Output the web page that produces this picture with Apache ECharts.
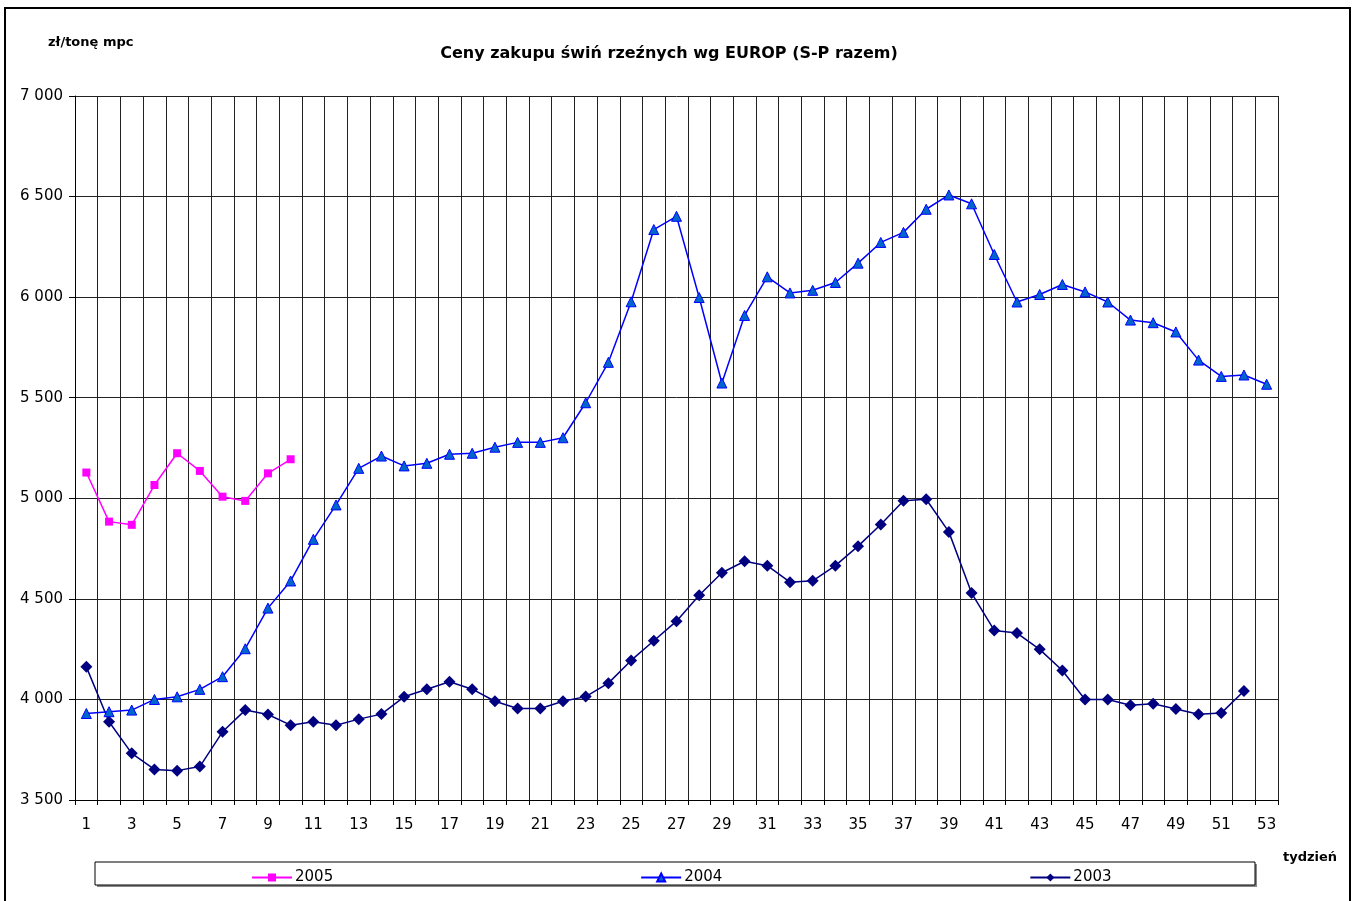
<!DOCTYPE html>
<html>
<head>
<meta charset="utf-8">
<script src="https://cdn.jsdelivr.net/npm/echarts@6/dist/echarts.min.js"></script>
<style>
  html, body { margin: 0; padding: 0; background: #fff; }
  #chart { width: 1356px; height: 901px; }
</style>
</head>
<body>
<div id="chart"></div>
<script>
  // tygodnie 1..53
  const weeks = [];
  for (let i = 1; i <= 53; i++) weeks.push(String(i));

  const yTicks = [3500, 4000, 4500, 5000, 5500, 6000, 6500, 7000];

  const prices2005 = [5128, 4884, 4868, 5066, 5224, 5136, 5008, 4987, 5124, 5194];

  const prices2004 = [3930, 3939, 3947, 4000, 4013, 4050, 4113, 4252, 4454, 4589,
    4796, 4967, 5149, 5210, 5161, 5174, 5219, 5224, 5254, 5278,
    5278, 5301, 5475, 5676, 5977, 6336, 6402, 5998, 5573, 5909,
    6101, 6021, 6034, 6073, 6169, 6272, 6322, 6437, 6508, 6464,
    6212, 5976, 6013, 6063, 6026, 5976, 5886, 5873, 5827, 5687,
    5606, 5613, 5567];

  const prices2003 = [4162, 3889, 3732, 3652, 3646, 3666, 3839, 3947, 3925, 3872,
    3889, 3872, 3902, 3927, 4013, 4051, 4088, 4051, 3991, 3955,
    3955, 3991, 4014, 4081, 4194, 4292, 4389, 4518, 4630, 4687,
    4665, 4583, 4590, 4665, 4762, 4870, 4988, 4995, 4833, 4529,
    4343, 4330, 4249, 4144, 4000, 4000, 3971, 3978, 3952, 3926,
    3932, 4042];

  const fmt = v => String(v).replace(/\B(?=(\d{3})+(?!\d))/g, ' ');
  const FONT = 'DejaVu Sans, Arial, sans-serif';

  const chart = echarts.init(document.getElementById('chart'));
  chart.setOption({
    animation: false,
    textStyle: { fontFamily: FONT },
    title: {
      text: 'Ceny zakupu świń rzeźnych wg EUROP (S-P razem)',
      left: 664, textAlign: 'center', top: 41,
      textStyle: { fontSize: 16, fontWeight: 'bold', color: '#000', fontFamily: FONT }
    },
    graphic: [
      { type: 'rect', shape: { x: 5, y: 8, width: 1345, height: 910 },
        style: { fill: 'none', stroke: '#000', lineWidth: 2 }, z: 100 },
      { type: 'text', left: 48, top: 36,
        style: { text: 'zł/tonę mpc', font: 'bold 13px DejaVu Sans', fill: '#000' } },
      { type: 'text', left: 1283, top: 851,
        style: { text: 'tydzień', font: 'bold 13px DejaVu Sans', fill: '#000' } },
      { type: 'rect', shape: { x: 97, y: 864, width: 1160, height: 23 },
        style: { fill: '#888', stroke: 'none' }, z: 0 },
      { type: 'rect', shape: { x: 95, y: 862, width: 1160, height: 23 },
        style: { fill: '#fff', stroke: '#000', lineWidth: 1 }, z: 1 }
    ],
    legend: {
      left: 246, top: 865, itemGap: 307, itemWidth: 40, itemHeight: 10,
      textStyle: { fontSize: 15, color: '#000', fontFamily: FONT, padding: [0, 0, 0, -2] },
      data: ['2005', '2004', '2003'], z: 5
    },
    grid: { left: 75, right: 78, top: 96, bottom: 101 },
    xAxis: {
      type: 'category', data: weeks, boundaryGap: true,
      axisLine: { lineStyle: { color: '#000', width: 1 } },
      axisTick: { show: true, interval: 0, length: 5, lineStyle: { color: '#000' } },
      axisLabel: { interval: 1, color: '#000', fontSize: 15, margin: 18 },
      splitLine: { show: true, interval: 0, lineStyle: { color: '#222', width: 1 } }
    },
    yAxis: {
      type: 'value', min: yTicks[0], max: yTicks[yTicks.length - 1], interval: 500,
      axisLine: { show: true, lineStyle: { color: '#000', width: 1 } },
      axisTick: { show: true, length: 6, lineStyle: { color: '#000' } },
      axisLabel: { color: '#000', fontSize: 15, margin: 12, formatter: fmt },
      splitLine: { show: true, lineStyle: { color: '#222', width: 1 } }
    },
    series: [
      { name: '2005', type: 'line', data: prices2005, symbol: 'rect', symbolSize: 8,
        itemStyle: { color: '#FF00FF' }, lineStyle: { color: '#FF00FF', width: 1.5 }, z: 4 },
      { name: '2004', type: 'line', data: prices2004, symbol: 'triangle', symbolSize: 10,
        itemStyle: { color: '#0066CC', borderColor: '#0000FF', borderWidth: 1 },
        lineStyle: { color: '#0000FF', width: 1.5 }, z: 3 },
      { name: '2003', type: 'line', data: prices2003, symbol: 'diamond', symbolSize: 12,
        itemStyle: { color: '#000080' }, lineStyle: { color: '#000080', width: 1.5 }, z: 2 }
    ]
  });
</script>
</body>
</html>
